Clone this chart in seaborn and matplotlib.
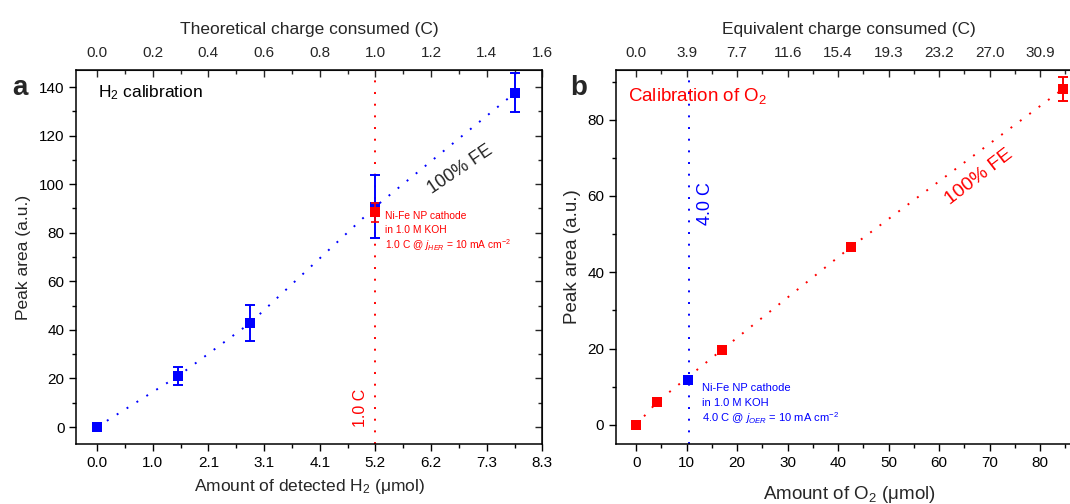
import numpy as np
import pandas as pd
import seaborn as sns
import matplotlib.pyplot as plt
from matplotlib.transforms import offset_copy
from matplotlib.ticker import FixedLocator, MultipleLocator, NullFormatter

# ---- panel a: H2 calibration ----
h2_amount = [0.0, 1.51, 2.85, 5.18, 7.78]        # detected H2 (umol)
h2_area = [0.0, 21.0, 42.8, 90.7, 137.6]         # peak area (a.u.)
h2_err = [0.0, 3.8, 7.5, 12.9, 8.0]
her_amount = [5.18]                               # Ni-Fe NP cathode run
her_area = [88.4]
her_err = [4.0]
h2_charge_ticks = [0.0, 0.2, 0.4, 0.6, 0.8, 1.0, 1.2, 1.4, 1.6]
her_charge = 1.0

# ---- panel b: O2 calibration ----
o2_amount = [0.0, 4.2, 17.0, 42.5, 84.5]         # O2 (umol)
o2_area = [0.0, 6.1, 19.7, 46.6, 88.0]
o2_err = [0.0, 0.4, 0.5, 0.6, 3.2]
oer_amount = [10.36]
oer_area = [11.8]
o2_amount_ticks = [0, 10, 20, 30, 40, 50, 60, 70, 80]
oer_charge = 4.0

FARADAY = 96485.0
UMOL_PER_C_H2 = 1e6 / (2 * FARADAY)
C_PER_UMOL_O2 = 4 * FARADAY / 1e6

BLUE = "#0000ff"
RED = "#ff0000"
DOT = (0, (1, 5))

sns.set_style("ticks")
plt.rcParams["font.family"] = ["Liberation Sans", "DejaVu Sans"]
plt.rcParams["mathtext.fontset"] = "custom"
plt.rcParams["mathtext.rm"] = "Liberation Sans"
plt.rcParams["mathtext.it"] = "Liberation Sans:italic"
plt.rcParams["mathtext.default"] = "regular"

TICK_FS = 11
LABEL_FS = 12.5

fig = plt.figure(figsize=(10.7, 5.04), dpi=100)
ax_a = fig.add_axes([0.0714, 0.119, 0.4355, 0.742])
ax_b = fig.add_axes([0.5757, 0.119, 0.4355, 0.742])


def style_axes(ax):
    for sp in ax.spines.values():
        sp.set_linewidth(1.1)
        sp.set_color("black")
    ax.tick_params(which="both", direction="out", width=1.0, colors="black",
                   labelsize=TICK_FS, top=False, right=False)
    ax.tick_params(which="major", length=5)
    ax.tick_params(which="minor", length=3)


def style_top(sec):
    sec.tick_params(which="both", direction="in", width=1.0, labelsize=TICK_FS, pad=7)
    sec.tick_params(which="major", length=5)
    sec.tick_params(which="minor", length=3)


def note_block(ax, x, y, lines, step_pt, **kw):
    # stack lines at a fixed spacing so the mathtext line keeps the same pitch
    for i, line in enumerate(lines):
        tr = offset_copy(ax.transData, fig=ax.figure, x=0, y=-i * step_pt, units="points")
        ax.text(x, y, line, transform=tr, ha="left", va="center", **kw)


# ================= panel a =================
ax = ax_a
style_axes(ax)
ax.axvline(her_charge * UMOL_PER_C_H2, color=RED, lw=1.4, linestyle=DOT, zorder=1)
sns.lineplot(x=h2_amount, y=h2_area, color=BLUE, lw=1.4, linestyle=DOT,
             sort=False, errorbar=None, ax=ax, zorder=2)
ax.errorbar(h2_amount, h2_area, yerr=h2_err, fmt="none", ecolor=BLUE,
            elinewidth=1.4, capsize=3.5, capthick=1.4, zorder=3)
sns.scatterplot(x=h2_amount, y=h2_area, marker="s", s=62, color=BLUE,
                edgecolor=BLUE, linewidth=0, ax=ax, zorder=4)
ax.errorbar(her_amount, her_area, yerr=her_err, fmt="none", ecolor=RED,
            elinewidth=1.2, capsize=3, capthick=1.2, zorder=5)
sns.scatterplot(x=her_amount, y=her_area, marker="s", s=62, color=RED,
                edgecolor=RED, linewidth=0, ax=ax, zorder=6)

ax.set_xlim(-0.074 * UMOL_PER_C_H2, 1.6 * UMOL_PER_C_H2)
ax.set_ylim(-7, 147)
bottom_pos = [c * UMOL_PER_C_H2 for c in h2_charge_ticks]
ax.xaxis.set_major_locator(FixedLocator(bottom_pos))
ax.set_xticklabels([f"{p:.1f}" for p in bottom_pos])
ax.xaxis.set_minor_locator(FixedLocator([(c + 0.1) * UMOL_PER_C_H2 for c in h2_charge_ticks[:-1]]))
ax.yaxis.set_major_locator(MultipleLocator(20))
ax.yaxis.set_minor_locator(MultipleLocator(10))
ax.set_xlabel("Amount of detected H$_2$ ($\\mu$mol)", fontsize=LABEL_FS, labelpad=5)
ax.set_ylabel("Peak area (a.u.)", fontsize=LABEL_FS)
ax.yaxis.set_label_coords(-0.098, 0.5)

top_a = ax.secondary_xaxis("top", functions=(lambda u: u / UMOL_PER_C_H2,
                                             lambda c: c * UMOL_PER_C_H2))
top_a.set_xticks(h2_charge_ticks)
top_a.set_xticklabels([f"{c:.1f}" for c in h2_charge_ticks])
top_a.xaxis.set_minor_locator(MultipleLocator(0.1))
style_top(top_a)
top_a.set_xlabel("Theoretical charge consumed (C)", fontsize=LABEL_FS, labelpad=9)

right_a = ax.secondary_yaxis("right")
right_a.yaxis.set_major_locator(MultipleLocator(20))
right_a.yaxis.set_minor_locator(MultipleLocator(10))
right_a.yaxis.set_major_formatter(NullFormatter())
right_a.tick_params(which="both", direction="in", width=1.0)
right_a.tick_params(which="major", length=5)
right_a.tick_params(which="minor", length=3)

ax.text(0.046, 0.939, "H$_2$ calibration", transform=ax.transAxes,
        fontsize=12.5, ha="left", va="center", color="black")
ax.text(6.76, 106, "100% FE", rotation=34, fontsize=13, color="#222222",
        ha="center", va="center", rotation_mode="anchor")
ax.text(5.04, 8, "1.0 C", rotation=90, fontsize=11.5, color=RED,
        ha="right", va="center")
note_block(ax, 5.36, 87.0,
           ["Ni-Fe NP cathode", "in 1.0 M KOH",
            "1.0 C @ $\\mathit{j}_{\\mathit{HER}}$ = 10 mA cm$^{-2}$"],
           step_pt=10.6, fontsize=7.4, color=RED)

# ================= panel b =================
ax = ax_b
style_axes(ax)
oer_line = oer_charge / C_PER_UMOL_O2
ax.axvline(oer_line, color=BLUE, lw=1.4, linestyle=DOT, zorder=1)
sns.lineplot(x=o2_amount, y=o2_area, color=RED, lw=1.4, linestyle=DOT,
             sort=False, errorbar=None, ax=ax, zorder=2)
ax.errorbar(o2_amount, o2_area, yerr=o2_err, fmt="none", ecolor=RED,
            elinewidth=1.4, capsize=3.5, capthick=1.4, zorder=3)
sns.scatterplot(x=o2_amount, y=o2_area, marker="s", s=62, color=RED,
                edgecolor=RED, linewidth=0, ax=ax, zorder=4)
sns.scatterplot(x=oer_amount, y=oer_area, marker="s", s=62, color=BLUE,
                edgecolor=BLUE, linewidth=0, ax=ax, zorder=5)

ax.set_xlim(-4, 88.3)
ax.set_ylim(-5, 93)
ax.xaxis.set_major_locator(FixedLocator(o2_amount_ticks))
ax.xaxis.set_minor_locator(MultipleLocator(5))
ax.yaxis.set_major_locator(MultipleLocator(20))
ax.yaxis.set_minor_locator(MultipleLocator(10))
ax.set_xlabel("Amount of O$_2$ ($\\mu$mol)", fontsize=LABEL_FS + 1, labelpad=10)
ax.set_ylabel("Peak area (a.u.)", fontsize=LABEL_FS + 1)
ax.yaxis.set_label_coords(-0.076, 0.5)

top_b = ax.secondary_xaxis("top", functions=(lambda u: u * C_PER_UMOL_O2,
                                             lambda c: c / C_PER_UMOL_O2))
top_charge = [u * C_PER_UMOL_O2 for u in o2_amount_ticks]
top_b.set_xticks(top_charge)
top_b.set_xticklabels([f"{c:.1f}" for c in top_charge])
top_b.xaxis.set_minor_locator(FixedLocator([(u + 5) * C_PER_UMOL_O2 for u in o2_amount_ticks]))
style_top(top_b)
top_b.set_xlabel("Equivalent charge consumed (C)", fontsize=LABEL_FS, labelpad=9)

ax.text(0.026, 0.93, "Calibration of O$_2$", transform=ax.transAxes,
        fontsize=13.5, ha="left", va="center", color=RED)
ax.text(68, 65, "100% FE", rotation=37.6, fontsize=14, color=RED,
        ha="center", va="center", rotation_mode="anchor")
ax.text(oer_line + 1.6, 58, "4.0 C", rotation=90, fontsize=13, color=BLUE,
        ha="left", va="center")
note_block(ax, 12.95, 9.6,
           ["Ni-Fe NP cathode", "in 1.0 M KOH",
            "4.0 C @ $\\mathit{j}_{\\mathit{OER}}$ = 10 mA cm$^{-2}$"],
           step_pt=10.6, fontsize=8, color=BLUE)

fig.text(20 / 1070, 1 - 88 / 504, "a", fontsize=20, fontweight="bold", ha="center", va="center")
fig.text(579 / 1070, 1 - 88 / 504, "b", fontsize=20, fontweight="bold", ha="center", va="center")

fig.savefig("out.png", dpi=100)
